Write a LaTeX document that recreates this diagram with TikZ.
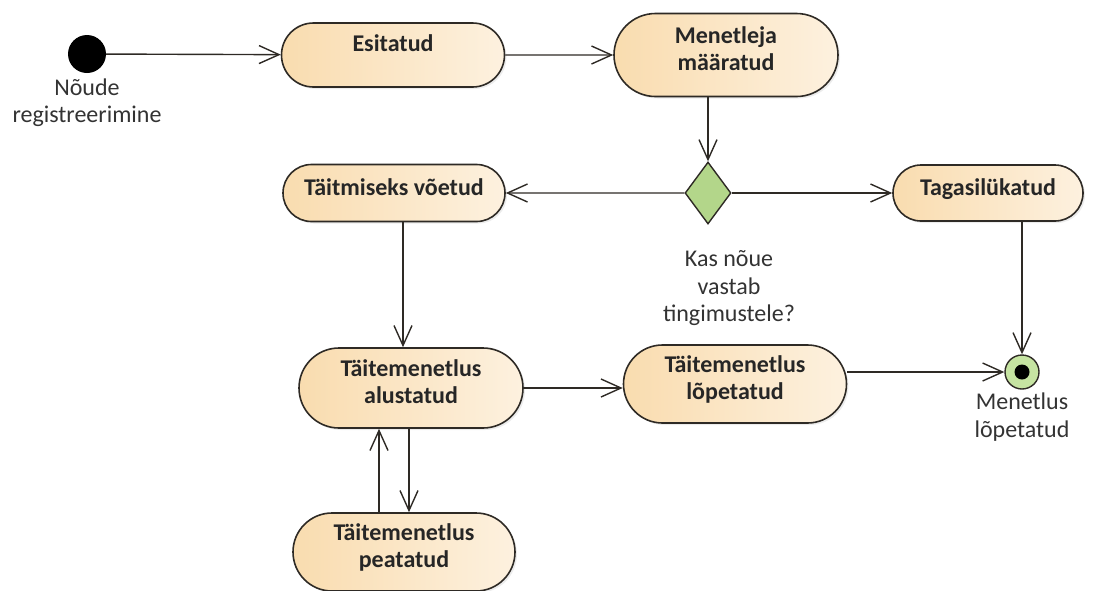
\documentclass[tikz,border=0pt]{standalone}
\usepackage{fontspec}
\setmainfont{Carlito}
\usetikzlibrary{arrows.meta,shapes.misc,shapes.geometric,shadows}
\definecolor{stateL}{HTML}{F9DCAF}
\definecolor{stateR}{HTML}{FDF1DF}
\definecolor{edgec}{HTML}{2E2A25}
\definecolor{decfill}{HTML}{B3D68A}
\definecolor{finfill}{HTML}{C6E4A2}
\definecolor{labelc}{HTML}{333333}
\begin{document}
\begin{tikzpicture}[x=1pt,y=-1pt,
  state/.style={rounded rectangle, draw=edgec, line width=1.6pt,
    left color=stateL, right color=stateR,
    font=\fontsize{24}{27}\selectfont\bfseries, text=black!85,
    align=center, text depth=12pt, inner sep=0pt,
    drop shadow={shadow xshift=2pt,shadow yshift=-2pt,opacity=0.15}},
  initial/.style={circle, fill=black, minimum size=38pt, inner sep=0pt},
  decision/.style={diamond, draw=edgec, line width=1.4pt, fill=decfill,
    minimum width=46pt, minimum height=62pt, inner sep=0pt},
  final/.style={circle, draw=edgec, line width=1.4pt, fill=finfill,
    minimum size=34pt, inner sep=0pt,
    path picture={\fill[black] (path picture bounding box.center) circle (7.5pt);}},
  note/.style={font=\fontsize{24}{27.5}\selectfont, text=labelc, align=center, inner sep=1pt},
  flow/.style={draw=edgec, line width=1.4pt,
    -{Straight Barb[length=20pt,width=18pt,line width=1.4pt]}}
]
\useasboundingbox (0,0) rectangle (1108,590);

% states and pseudo-states
\node[initial] (init) at (87,54) {};
\node[state, minimum width=223pt, minimum height=64pt, text depth=24pt] (es) at (393,55) {Esitatud};
\node[state, minimum width=224pt, minimum height=83pt] (me) at (726,55) {Menetleja\\määratud};
\node[decision] (dec) at (708,193) {};
\node[state, minimum width=222pt, minimum height=57pt] (tv) at (394,193) {Täitmiseks võetud};
\node[state, minimum width=190pt, minimum height=56pt] (tg) at (988,193) {Tagasilükatud};
\node[state, minimum width=224pt, minimum height=80pt] (ta) at (411,388) {Täitemenetlus\\alustatud};
\node[state, minimum width=223pt, minimum height=78pt] (tl) at (735,384) {Täitemenetlus\\lõpetatud};
\node[state, minimum width=222pt, minimum height=78pt] (tp) at (404,552) {Täitemenetlus\\peatatud};
\node[final] (fin) at (1022,372) {};

% captions
\node[note, anchor=north, yshift=-4pt] (initlbl) at (init.south) {Nõude\\registreerimine};
\node[note, anchor=north, xshift=21pt, yshift=-25pt] (declbl) at (dec.south) {Kas nõue\\vastab\\tingimustele?};
\node[note, anchor=north, yshift=-2pt] (finlbl) at (fin.south) {Menetlus\\lõpetatud};

% connector anchors
\coordinate (tvout) at ([xshift=9pt]tv.south);
\coordinate (tpup) at ([xshift=-25pt]tp.north);
\coordinate (tadn) at ([xshift=-2pt]ta.south);

% transitions
\draw[flow] (init) -- (es);
\draw[flow] (es) -- (me);
\draw[flow] (me.south -| dec.north) -- (dec.north);
\draw[flow] (dec) -- (tv);
\draw[flow] (dec) -- (tg);
\draw[flow] (tg.south -| fin) -- (fin);
\draw[flow] (tvout) -- (tvout |- ta.north);
\draw[flow] (ta.east) -- (ta.east -| tl.west);
\draw[flow] (fin -| tl.east) -- (fin);
\draw[flow] (tpup) -- (tpup |- ta.south);
\draw[flow] (tadn) -- (tadn |- tp.north);
\end{tikzpicture}
\end{document}
